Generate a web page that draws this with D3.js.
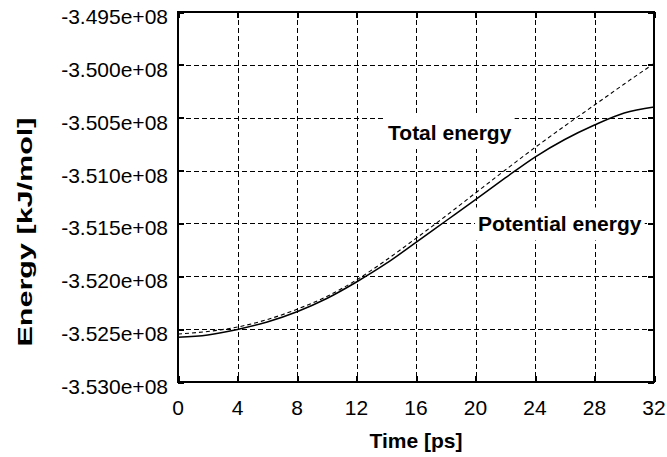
<!DOCTYPE html>
<html><head><meta charset="utf-8">
<script src="https://cdn.jsdelivr.net/npm/d3@7/dist/d3.min.js"></script>
<style>body{margin:0;background:#fff}svg{display:block}text{font-family:"Liberation Sans",Arial,sans-serif}</style>
</head><body>
<svg id="c" width="667" height="457"></svg>
<script>
const time = [0,2,4,6,8,10,12,14,16,18,20,22,24,26,28,30,32];
const potentialEnergy = [-352577000,-352555000,-352503000,-352432000,-352335000,-352210000,-352054000,-351879000,-351680000,-351477000,-351274000,-351070000,-350872000,-350706000,-350569000,-350455000,-350399000];
const totalEnergy = [-352546000,-352522000,-352480000,-352409000,-352312000,-352191000,-352035000,-351846000,-351641000,-351430000,-351212000,-350995000,-350782000,-350578000,-350380000,-350181000,-349987000];
const xTicks = [0,4,8,12,16,20,24,28,32];
const yTicks = [-349500000,-350000000,-350500000,-351000000,-351500000,-352000000,-352500000,-353000000];
const yTickLabels = ["-3.495e+08","-3.500e+08","-3.505e+08","-3.510e+08","-3.515e+08","-3.520e+08","-3.525e+08","-3.530e+08"];
const annotations = [
  {text:"Total energy", t:14.12, e:-350711000},
  {text:"Potential energy", t:20.17, e:-351576000}
];

const svg = d3.select("#c");
const L=178, T=12, R=654, B=382;
const x = d3.scaleLinear().domain([0,32]).range([L,R]);
const y = d3.scaleLinear().domain([-353000000,-349500000]).range([B,T]);
const px = v => Math.round(v)+0.5;

// grid
const g = svg.append("g");
g.selectAll(".vg").data(xTicks.slice(1,-1)).join("line")
  .attr("x1",d=>px(x(d))).attr("x2",d=>px(x(d))).attr("y1",T).attr("y2",B)
  .attr("stroke","#000").attr("stroke-width",1).attr("stroke-dasharray","5,3")
  .attr("shape-rendering","crispEdges");
g.selectAll(".hg").data(yTicks.slice(1,-1)).join("line")
  .attr("y1",d=>px(y(d))).attr("y2",d=>px(y(d))).attr("x1",L).attr("x2",R)
  .attr("stroke","#000").attr("stroke-width",1).attr("stroke-dasharray","5,3")
  .attr("shape-rendering","crispEdges");

// curves
const line = d3.line().x((d,i)=>x(time[i])).y(d=>y(d)).curve(d3.curveMonotoneX);
svg.append("path").attr("d",line(totalEnergy)).attr("fill","none")
  .attr("stroke","#000").attr("stroke-width",1.1).attr("stroke-dasharray","4,3");
svg.append("path").attr("d",line(potentialEnergy)).attr("fill","none")
  .attr("stroke","#000").attr("stroke-width",1.5);

// annotations with white boxes
annotations.forEach(a=>{
  const grp = svg.append("g");
  const r = grp.append("rect").attr("fill","#fff");
  const t = grp.append("text").attr("x",x(a.t)).attr("y",y(a.e))
    .attr("font-size",21).attr("font-weight","bold").text(a.text);
  const bb = t.node().getBBox();
  r.attr("x",bb.x-3).attr("y",bb.y-5).attr("width",bb.width+6).attr("height",bb.height+10);
});

// axes (frame + inward ticks on all sides)
const axB = d3.axisBottom(x).tickValues(xTicks).tickSize(-6).tickFormat("");
const axT = d3.axisTop(x).tickValues(xTicks).tickSize(-6).tickFormat("");
const axLft = d3.axisLeft(y).tickValues(yTicks).tickSize(-6).tickFormat("");
const axRt = d3.axisRight(y).tickValues(yTicks).tickSize(-6).tickFormat("");
[[axB,`translate(0,${B})`],[axT,`translate(0,${T})`],[axLft,`translate(${L},0)`],[axRt,`translate(${R},0)`]].forEach(([ax,tr])=>{
  const a = svg.append("g").attr("transform",tr).call(ax);
  a.select(".domain").remove();
  a.selectAll("line").attr("stroke","#000").attr("stroke-width",2).attr("shape-rendering","crispEdges");
});
svg.append("rect").attr("x",L).attr("y",T).attr("width",R-L).attr("height",B-T)
  .attr("fill","none").attr("stroke","#000").attr("stroke-width",2).attr("shape-rendering","crispEdges");

// tick labels
svg.append("g").selectAll("text").data(xTicks).join("text")
  .attr("x",d=>x(d)).attr("y",415).attr("text-anchor","middle")
  .attr("font-size",21).text(d=>d);
svg.append("g").selectAll("text").data(yTicks).join("text")
  .attr("x",L-10).attr("y",d=>y(d)+12).attr("text-anchor","end")
  .attr("font-size",21).text((d,i)=>yTickLabels[i]);

// axis titles
svg.append("text").attr("x",(L+R)/2).attr("y",448).attr("text-anchor","middle")
  .attr("font-size",21).attr("font-weight","bold").text("Time [ps]");
svg.append("text").attr("transform","translate(32,232) rotate(-90)")
  .attr("text-anchor","middle").attr("font-size",21).attr("font-weight","bold")
  .attr("textLength",229).attr("lengthAdjust","spacingAndGlyphs")
  .text("Energy [kJ/mol]");
</script>
</body></html>
